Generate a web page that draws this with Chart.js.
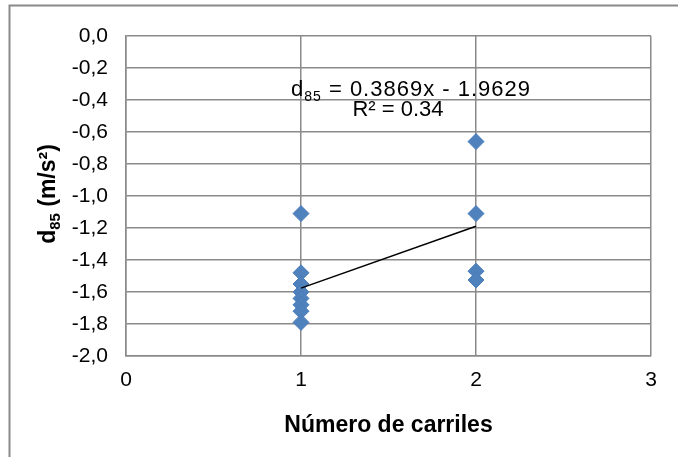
<!DOCTYPE html>
<html lang="es">
<head>
    <meta charset="UTF-8">
    <title>d85 vs número de carriles</title>
    <script src="https://cdn.jsdelivr.net/npm/chart.js@4.4.1/dist/chart.umd.min.js"></script>
    <style>
        body { margin: 0; background: #fff; }
        #wrap { width: 678px; height: 457px; }
    </style>
</head>
<body>
    <div id="wrap">
        <canvas id="myChart"></canvas>
    </div>

<script type="text/javascript">
    // observaciones: deceleración d85 por número de carriles
    let lanesOne = [1, 1, 1, 1, 1, 1, 1, 1];
    let d85One = [-1.11, -1.48, -1.55, -1.60, -1.64, -1.68, -1.72, -1.79];
    let lanesTwo = [2, 2, 2, 2];
    let d85Two = [-0.66, -1.11, -1.47, -1.525];

    // recta de regresión lineal
    let trendSlope = 0.3869;
    let trendIntercept = -1.9629;
    let trendR2 = 0.34;
    let trendX = [1, 2];

    let yTicks = [0, -0.2, -0.4, -0.6, -0.8, -1.0, -1.2, -1.4, -1.6, -1.8, -2.0];
    let xTicks = [0, 1, 2, 3];

    let points = [];
    lanesOne.forEach(function (x, i) { points.push({x: x, y: d85One[i]}); });
    lanesTwo.forEach(function (x, i) { points.push({x: x, y: d85Two[i]}); });

    let trendPoints = trendX.map(function (x) {
        return {x: x, y: trendSlope * x + trendIntercept};
    });

    const gridColor = '#8a8a8a';
    const FONT = 'Arial, "Liberation Sans", sans-serif';

    // marco exterior, título del eje Y con subíndice y ecuación de la recta
    let textPlugin = {
        id: 'textPlugin',
        beforeDraw: function (chart) {
            let ctx = chart.ctx;
            ctx.save();
            ctx.fillStyle = '#fff';
            ctx.fillRect(0, 0, chart.width, chart.height);
            ctx.strokeStyle = gridColor;
            ctx.lineWidth = 2;
            ctx.strokeRect(9.5, 5.5, 1000, 1000);
            ctx.restore();
        },
        afterDraw: function (chart) {
            let ctx = chart.ctx;
            ctx.save();
            ctx.fillStyle = '#000';
            ctx.textBaseline = 'alphabetic';

            // d85 = 0.3869x - 1.9629
            let big = '22px ' + FONT;
            let small = '14px ' + FONT;
            let rest = ' = ' + trendSlope.toFixed(4) + 'x - ' + Math.abs(trendIntercept).toFixed(4);
            ctx.letterSpacing = '1px';
            ctx.font = big;
            let wD = ctx.measureText('d').width;
            let wRest = ctx.measureText(rest).width;
            ctx.font = small;
            let wSub = ctx.measureText('85').width;
            let total = wD + wSub + wRest;
            let x0 = 411 - total / 2;
            let base = 96;
            ctx.textAlign = 'left';
            ctx.font = big;
            ctx.fillText('d', x0, base);
            ctx.font = small;
            ctx.fillText('85', x0 + wD, base + 5);
            ctx.font = big;
            ctx.fillText(rest, x0 + wD + wSub, base);

            ctx.letterSpacing = '0px';
            ctx.textAlign = 'center';
            ctx.fillText('R² = ' + trendR2.toFixed(2), 398, 116);

            // título del eje Y
            ctx.translate(55, 194);
            ctx.rotate(-Math.PI / 2);
            let bBig = 'bold 23px ' + FONT;
            let bSmall = 'bold 15px ' + FONT;
            ctx.font = bBig;
            let tD = ctx.measureText('d').width;
            let tRest = ctx.measureText(' (m/s²)').width;
            ctx.font = bSmall;
            let tSub = ctx.measureText('85').width;
            let t0 = -(tD + tSub + tRest) / 2;
            ctx.textAlign = 'left';
            ctx.font = bBig;
            ctx.fillText('d', t0, 0);
            ctx.font = bSmall;
            ctx.fillText('85', t0 + tD, 5);
            ctx.font = bBig;
            ctx.fillText(' (m/s²)', t0 + tD + tSub, 0);
            ctx.restore();
        }
    };

    let ctx = document.getElementById('myChart').getContext('2d');

    window.scatterChart = new Chart(ctx, {
        type: 'scatter',
        data: {
            datasets: [{
                type: 'line',
                data: trendPoints,
                borderColor: '#000',
                borderWidth: 1.5,
                pointRadius: 0,
                fill: false,
                order: 0
            }, {
                data: points,
                pointStyle: 'rectRot',
                pointRadius: 8,
                pointBackgroundColor: '#4f81bd',
                pointBorderColor: '#4a7ebb',
                pointBorderWidth: 1,
                order: 1
            }]
        },
        options: {
            responsive: true,
            maintainAspectRatio: false,
            animation: false,
            layout: {
                padding: {left: 0, top: 36, right: 27, bottom: 0}
            },
            plugins: {
                legend: {display: false},
                tooltip: {enabled: false}
            },
            scales: {
                x: {
                    type: 'linear',
                    min: xTicks[0],
                    max: xTicks[xTicks.length - 1],
                    afterBuildTicks: function (scale) {
                        scale.ticks = xTicks.map(function (v) { return {value: v}; });
                    },
                    afterFit: function (scale) { scale.height = 101; },
                    grid: {color: gridColor, lineWidth: 1.5, drawTicks: false},
                    border: {color: gridColor, width: 1.5},
                    ticks: {
                        color: '#000',
                        padding: 12,
                        font: {family: FONT, size: 21}
                    },
                    title: {
                        display: true,
                        text: 'Número de carriles',
                        color: '#000',
                        padding: {top: 0, bottom: 18},
                        font: {family: FONT, size: 23, weight: 'bold'}
                    }
                },
                y: {
                    type: 'linear',
                    min: -2,
                    max: 0,
                    afterBuildTicks: function (scale) {
                        scale.ticks = yTicks.map(function (v) { return {value: v}; });
                    },
                    afterFit: function (scale) { scale.width = 126; },
                    grid: {color: gridColor, lineWidth: 1.5, drawTicks: false},
                    border: {color: gridColor, width: 1.5},
                    ticks: {
                        color: '#000',
                        padding: 18,
                        font: {family: FONT, size: 21},
                        callback: function (v) { return v.toFixed(1).replace('.', ','); }
                    }
                }
            }
        },
        plugins: [textPlugin]
    });
</script>
</body>
</html>
